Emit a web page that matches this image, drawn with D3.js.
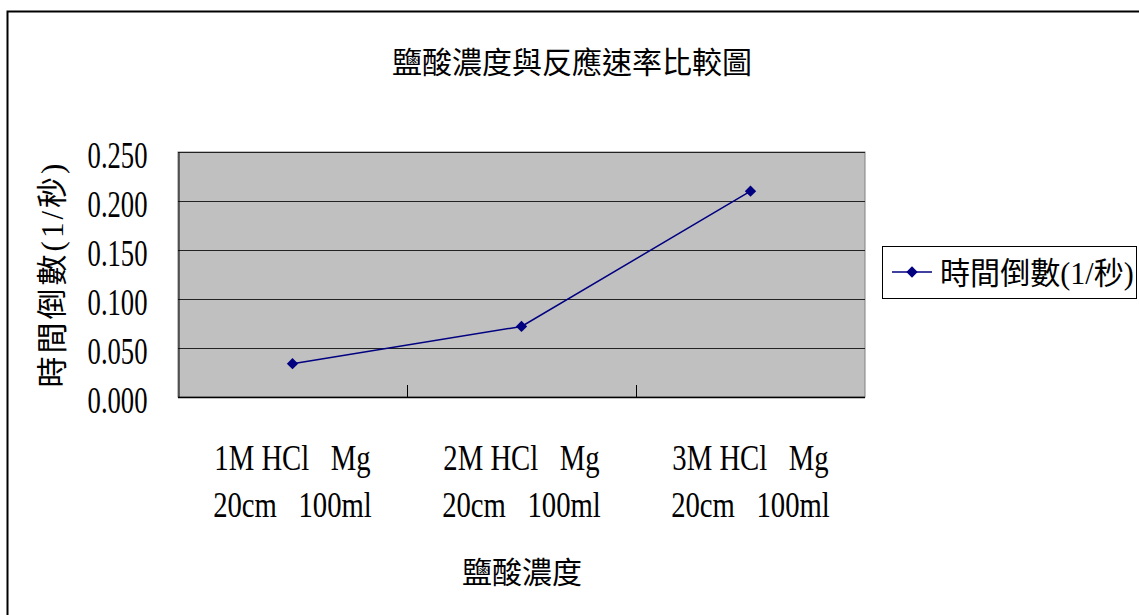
<!DOCTYPE html>
<html>
<head>
<meta charset="utf-8">
<script src="https://cdn.jsdelivr.net/npm/d3@7"></script>
<style>
  html, body { margin: 0; padding: 0; background: #fff; }
  svg text { font-family: "Liberation Serif", "Noto Sans CJK TC", serif; fill: #000; }
</style>
</head>
<body>
<svg id="chart" width="1139" height="615"></svg>
<script>
// Reaction rate (reciprocal of time) for each HCl concentration
const categoriesLine1 = ["1M HCl   Mg", "2M HCl   Mg", "3M HCl   Mg"];
const categoriesLine2 = ["20cm   100ml", "20cm   100ml", "20cm   100ml"];
const rateValues = [0.034, 0.072, 0.210];
const yTicks = [0, 0.05, 0.10, 0.15, 0.20, 0.25];
const seriesName = "時間倒數(1/秒)";
const chartTitle = "鹽酸濃度與反應速率比較圖";
const xTitle = "鹽酸濃度";
const yTitle = "時間倒數(1/秒)";

const svg = d3.select("#chart");

// narrow the Latin glyphs horizontally (tall, condensed serif look)
function condense(sel, factor) {
  sel.each(function () {
    const w = this.getComputedTextLength();
    d3.select(this)
      .attr("textLength", w * factor)
      .attr("lengthAdjust", "spacingAndGlyphs");
  });
}

// outer chart frame
svg.append("rect")
  .attr("x", 7.5).attr("y", 11.5)
  .attr("width", 1160).attr("height", 640)
  .attr("fill", "#fff").attr("stroke", "#000").attr("stroke-width", 2);

const plot = { left: 178, right: 865, top: 152, bottom: 397 };

const x = d3.scaleBand()
  .domain(d3.range(rateValues.length))
  .range([plot.left, plot.right]);

const y = d3.scaleLinear()
  .domain([0, 0.25])
  .range([plot.bottom, plot.top]);

// plot area background
svg.append("rect")
  .attr("x", plot.left).attr("y", plot.top)
  .attr("width", plot.right - plot.left).attr("height", plot.bottom - plot.top)
  .attr("fill", "#c0c0c0")
  .attr("stroke", "#808080").attr("stroke-width", 1);

// horizontal gridlines
svg.append("g")
  .selectAll("line")
  .data(yTicks.filter(d => d > 0))
  .join("line")
  .attr("x1", plot.left).attr("x2", plot.right)
  .attr("y1", d => Math.round(y(d)) + 0.5).attr("y2", d => Math.round(y(d)) + 0.5)
  .attr("stroke", "#222").attr("stroke-width", 1);

// y axis
const yAxis = d3.axisLeft(y)
  .tickValues(yTicks)
  .tickFormat(d3.format(".3f"))
  .tickSize(0)
  .tickPadding(31);
const gy = svg.append("g")
  .attr("transform", `translate(${plot.left + 0.5},0)`)
  .call(yAxis);
gy.select(".domain").attr("stroke", "#000");
gy.selectAll("text")
  .attr("font-size", 37)
  .attr("font-family", "'Liberation Serif', serif")
  .attr("dy", "0.42em")
  .call(condense, 0.72);

// x axis with category boundary ticks pointing inward
svg.append("line")
  .attr("x1", plot.left).attr("x2", plot.right)
  .attr("y1", plot.bottom + 0.5).attr("y2", plot.bottom + 0.5)
  .attr("stroke", "#000").attr("stroke-width", 1.5);
svg.append("g")
  .selectAll("line")
  .data(d3.range(1, rateValues.length))
  .join("line")
  .attr("x1", i => Math.round(x(i)) + 0.5).attr("x2", i => Math.round(x(i)) + 0.5)
  .attr("y1", plot.bottom).attr("y2", plot.bottom - 12)
  .attr("stroke", "#000");

// category labels (two lines each)
const cat = svg.append("g")
  .selectAll("text")
  .data(d3.range(rateValues.length))
  .join("text")
  .attr("x", i => x(i) + x.bandwidth() / 2)
  .attr("y", 470)
  .attr("text-anchor", "middle")
  .attr("font-size", 35)
  .attr("xml:space", "preserve")
  .style("white-space", "pre");
cat.append("tspan")
  .attr("x", i => x(i) + x.bandwidth() / 2)
  .text(i => categoriesLine1[i])
  .call(condense, 0.82);
cat.append("tspan")
  .attr("x", i => x(i) + x.bandwidth() / 2)
  .attr("dy", 47)
  .text(i => categoriesLine2[i])
  .call(condense, 0.82);

// data line
const lineGen = d3.line()
  .x((d, i) => x(i) + x.bandwidth() / 2)
  .y(d => y(d));
svg.append("path")
  .datum(rateValues)
  .attr("d", lineGen)
  .attr("fill", "none")
  .attr("stroke", "#000080")
  .attr("stroke-width", 1.5);

// diamond markers: square turned 45 degrees
const diamond = d3.symbol().type(d3.symbolSquare).size(64);
svg.append("g")
  .selectAll("path")
  .data(rateValues)
  .join("path")
  .attr("transform", (d, i) => `translate(${x(i) + x.bandwidth() / 2},${y(d)}) rotate(45)`)
  .attr("d", diamond)
  .attr("fill", "#000080");

// titles
svg.append("text")
  .attr("x", 572).attr("y", 73)
  .attr("text-anchor", "middle")
  .attr("font-size", 30)
  .text(chartTitle);

svg.append("text")
  .attr("x", 522).attr("y", 583)
  .attr("text-anchor", "middle")
  .attr("font-size", 30)
  .text(xTitle);

svg.append("text")
  .attr("transform", "translate(63,274) rotate(-90)")
  .attr("text-anchor", "middle")
  .attr("font-size", 31)
  .attr("letter-spacing", 3)
  .text(yTitle);

// legend
const legend = svg.append("g");
legend.append("rect")
  .attr("x", 882.5).attr("y", 246.5)
  .attr("width", 254).attr("height", 52)
  .attr("fill", "#fff").attr("stroke", "#000").attr("stroke-width", 1);
legend.append("line")
  .attr("x1", 892).attr("x2", 932)
  .attr("y1", 272).attr("y2", 272)
  .attr("stroke", "#000080").attr("stroke-width", 1.5);
legend.append("path")
  .attr("transform", "translate(912,272) rotate(45)")
  .attr("d", diamond)
  .attr("fill", "#000080");
legend.append("text")
  .attr("x", 940).attr("y", 284)
  .attr("font-size", 31)
  .text(seriesName)
  .call(condense, 0.97);
</script>
</body>
</html>
